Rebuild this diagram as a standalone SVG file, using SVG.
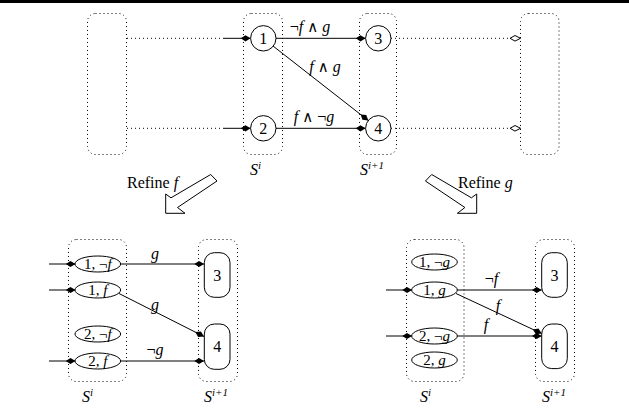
<svg xmlns="http://www.w3.org/2000/svg" width="629" height="408" viewBox="0 0 629 408">
<style>
.dot{fill:none;stroke:#000;stroke-width:1;stroke-dasharray:1 3}
.ln{fill:none;stroke:#000;stroke-width:1}
.nd{fill:#fff;stroke:#000;stroke-width:1}
.big{fill:#fff;stroke:#000;stroke-width:1}
text{font-family:"Liberation Serif","DejaVu Serif","Times New Roman",serif;fill:#000;font-size:16px}
.c{text-anchor:middle}
.it{font-style:italic}
.sup{font-style:italic;font-size:11px}
.op{font-family:"DejaVu Serif",serif;font-size:15px}
.el{font-size:15px}
</style>
<defs>
<marker id="ah" markerWidth="11" markerHeight="8" refX="10" refY="4" orient="auto" markerUnits="userSpaceOnUse" overflow="visible"><path d="M10,4 L5,0.9 L0.3,4 L5,7.1 Z" fill="#000"/></marker>
<marker id="oh" markerWidth="12" markerHeight="8" refX="11" refY="4" orient="auto" markerUnits="userSpaceOnUse" overflow="visible"><path d="M11,4 L5.5,1.2 L0.5,4 L5.5,6.8 Z" fill="#fff" stroke="#000" stroke-width="1"/></marker>
</defs>
<rect x="0" y="0" width="629" height="3" fill="#000"/>

<!-- top panel sets -->
<g id="setLeft"><rect class="dot" x="87.5" y="13.5" width="39" height="141" rx="8"/></g>
<g id="setSi"><rect class="dot" x="243.5" y="13.5" width="39" height="141" rx="8"/><text x="250" y="175"><tspan class="it">S</tspan><tspan class="sup" dy="-6">i</tspan></text></g>
<g id="setSi1"><rect class="dot" x="359.5" y="13.5" width="37" height="141" rx="8"/><text x="360" y="175"><tspan class="it">S</tspan><tspan class="sup" dy="-6">i+1</tspan></text></g>
<g id="setRight"><rect class="dot" x="520.5" y="13.5" width="38.5" height="141" rx="8"/></g>

<g id="connectors">
<!-- top -->
<line class="dot" x1="127" y1="38.3" x2="223" y2="38.3"/>
<line class="ln" x1="223" y1="38.3" x2="250.5" y2="38.3" marker-end="url(#ah)"/>
<line class="dot" x1="127" y1="128.3" x2="223" y2="128.3"/>
<line class="ln" x1="223" y1="128.3" x2="250.5" y2="128.3" marker-end="url(#ah)"/>
<line class="ln" x1="276" y1="38.3" x2="365.5" y2="38.3" marker-end="url(#ah)"/>
<line class="ln" x1="273" y1="46" x2="368.3" y2="120.5" marker-end="url(#ah)"/>
<line class="ln" x1="276" y1="128.3" x2="365.5" y2="128.3" marker-end="url(#ah)"/>
<line class="dot" x1="391" y1="38.3" x2="520.5" y2="38.3" marker-end="url(#oh)"/>
<line class="dot" x1="391" y1="128.3" x2="520.5" y2="128.3" marker-end="url(#oh)"/>
<!-- bottom left -->
<line class="ln" x1="49" y1="264" x2="75.5" y2="264" marker-end="url(#ah)"/>
<line class="ln" x1="49" y1="290" x2="75.5" y2="290" marker-end="url(#ah)"/>
<line class="ln" x1="49" y1="361" x2="75.5" y2="361" marker-end="url(#ah)"/>
<line class="ln" x1="120.5" y1="264" x2="204" y2="264" marker-end="url(#ah)"/>
<line class="ln" x1="119" y1="293.5" x2="204" y2="336.5" marker-end="url(#ah)"/>
<line class="ln" x1="120.5" y1="361" x2="204" y2="361" marker-end="url(#ah)"/>
<!-- bottom right -->
<line class="ln" x1="386" y1="290" x2="412" y2="290" marker-end="url(#ah)"/>
<line class="ln" x1="386" y1="336" x2="412" y2="336" marker-end="url(#ah)"/>
<line class="ln" x1="457" y1="290" x2="541.7" y2="290" marker-end="url(#ah)"/>
<line class="ln" x1="456" y1="293.5" x2="541.7" y2="333.5" marker-end="url(#ah)"/>
<line class="ln" x1="457" y1="336" x2="541.7" y2="336" marker-end="url(#ah)"/>
</g>

<g id="edgeLabels">
<text class="c" x="310" y="32">¬<tspan class="it">f</tspan> <tspan class="op">∧</tspan> <tspan class="it">g</tspan></text>
<text class="c" x="325" y="72"><tspan class="it">f</tspan> <tspan class="op">∧</tspan> <tspan class="it">g</tspan></text>
<text class="c" x="314" y="122"><tspan class="it">f</tspan> <tspan class="op">∧</tspan> ¬<tspan class="it">g</tspan></text>
<text class="c it" x="155" y="259">g</text>
<text class="c it" x="155" y="310">g</text>
<text class="c" x="155" y="355">¬<tspan class="it">g</tspan></text>
<text class="c" x="491.5" y="284">¬<tspan class="it">f</tspan></text>
<text class="c it" x="498" y="311">f</text>
<text class="c it" x="486" y="330">f</text>
</g>

<g id="n1"><circle class="nd" cx="263.3" cy="38.3" r="12.7"/><text class="c" x="263.3" y="43.8">1</text></g>
<g id="n2"><circle class="nd" cx="263.3" cy="128.3" r="12.7"/><text class="c" x="263.3" y="133.8">2</text></g>
<g id="n3"><circle class="nd" cx="378.3" cy="38.3" r="12.7"/><text class="c" x="378.3" y="43.8">3</text></g>
<g id="n4"><circle class="nd" cx="378.3" cy="128.3" r="12.7"/><text class="c" x="378.3" y="133.8">4</text></g>

<g id="refineF"><polygon class="big" points="165.7,213.3 165.7,194 171,197.8 210.7,174.5 217,181 177.5,207.5 185,213.3"/><text x="127" y="188" font-size="17">Refine <tspan class="it">f</tspan></text></g>
<g id="refineG"><polygon class="big" points="476.7,213.3 476.7,194 471.4,197.8 431.7,174.5 425.4,181 464.9,207.5 457.4,213.3"/><text x="458" y="188" font-size="17">Refine <tspan class="it">g</tspan></text></g>

<!-- bottom left panel -->
<g id="L_Si"><rect class="dot" x="68.5" y="239.5" width="58" height="142" rx="8"/><text x="82" y="402"><tspan class="it">S</tspan><tspan class="sup" dy="-6">i</tspan></text></g>
<g id="L_Si1"><rect class="dot" x="198.5" y="239.5" width="39" height="142" rx="8"/><text x="204" y="402"><tspan class="it">S</tspan><tspan class="sup" dy="-6">i+1</tspan></text></g>
<g id="L_1nf"><ellipse class="nd" cx="97.8" cy="264" rx="22.8" ry="8"/><text class="c el" x="97.8" y="269">1, ¬<tspan class="it">f</tspan></text></g>
<g id="L_1f"><ellipse class="nd" cx="97.8" cy="290" rx="22.8" ry="8"/><text class="c el" x="97.8" y="295">1, <tspan class="it">f</tspan></text></g>
<g id="L_2nf"><ellipse class="nd" cx="97.8" cy="334" rx="22.8" ry="8"/><text class="c el" x="97.8" y="339">2, ¬<tspan class="it">f</tspan></text></g>
<g id="L_2f"><ellipse class="nd" cx="97.8" cy="361" rx="22.8" ry="8"/><text class="c el" x="97.8" y="366">2, <tspan class="it">f</tspan></text></g>
<g id="L_3"><rect class="nd" x="204.3" y="252.7" width="25.7" height="44.6" rx="10"/><text class="c" x="217.2" y="280.5">3</text></g>
<g id="L_4"><rect class="nd" x="204.3" y="324" width="25.7" height="45.3" rx="10"/><text class="c" x="217.2" y="352">4</text></g>

<!-- bottom right panel -->
<g id="R_Si"><rect class="dot" x="406.5" y="239.5" width="57.5" height="142" rx="8"/><text x="420" y="402"><tspan class="it">S</tspan><tspan class="sup" dy="-6">i</tspan></text></g>
<g id="R_Si1"><rect class="dot" x="535.5" y="239.5" width="39" height="142" rx="8"/><text x="542" y="402"><tspan class="it">S</tspan><tspan class="sup" dy="-6">i+1</tspan></text></g>
<g id="R_1ng"><ellipse class="nd" cx="434.5" cy="262" rx="22.8" ry="8"/><text class="c el" x="434.5" y="267">1, ¬<tspan class="it">g</tspan></text></g>
<g id="R_1g"><ellipse class="nd" cx="434.5" cy="290" rx="22.8" ry="8"/><text class="c el" x="434.5" y="295">1, <tspan class="it">g</tspan></text></g>
<g id="R_2ng"><ellipse class="nd" cx="434.5" cy="336" rx="22.8" ry="8"/><text class="c el" x="434.5" y="341">2, ¬<tspan class="it">g</tspan></text></g>
<g id="R_2g"><ellipse class="nd" cx="434.5" cy="360" rx="22.8" ry="8"/><text class="c el" x="434.5" y="365">2, <tspan class="it">g</tspan></text></g>
<g id="R_3"><rect class="nd" x="541.7" y="252.7" width="25.6" height="44.6" rx="10"/><text class="c" x="554.5" y="280.5">3</text></g>
<g id="R_4"><rect class="nd" x="541.7" y="324" width="25.6" height="44.6" rx="10"/><text class="c" x="554.5" y="352">4</text></g>
</svg>
